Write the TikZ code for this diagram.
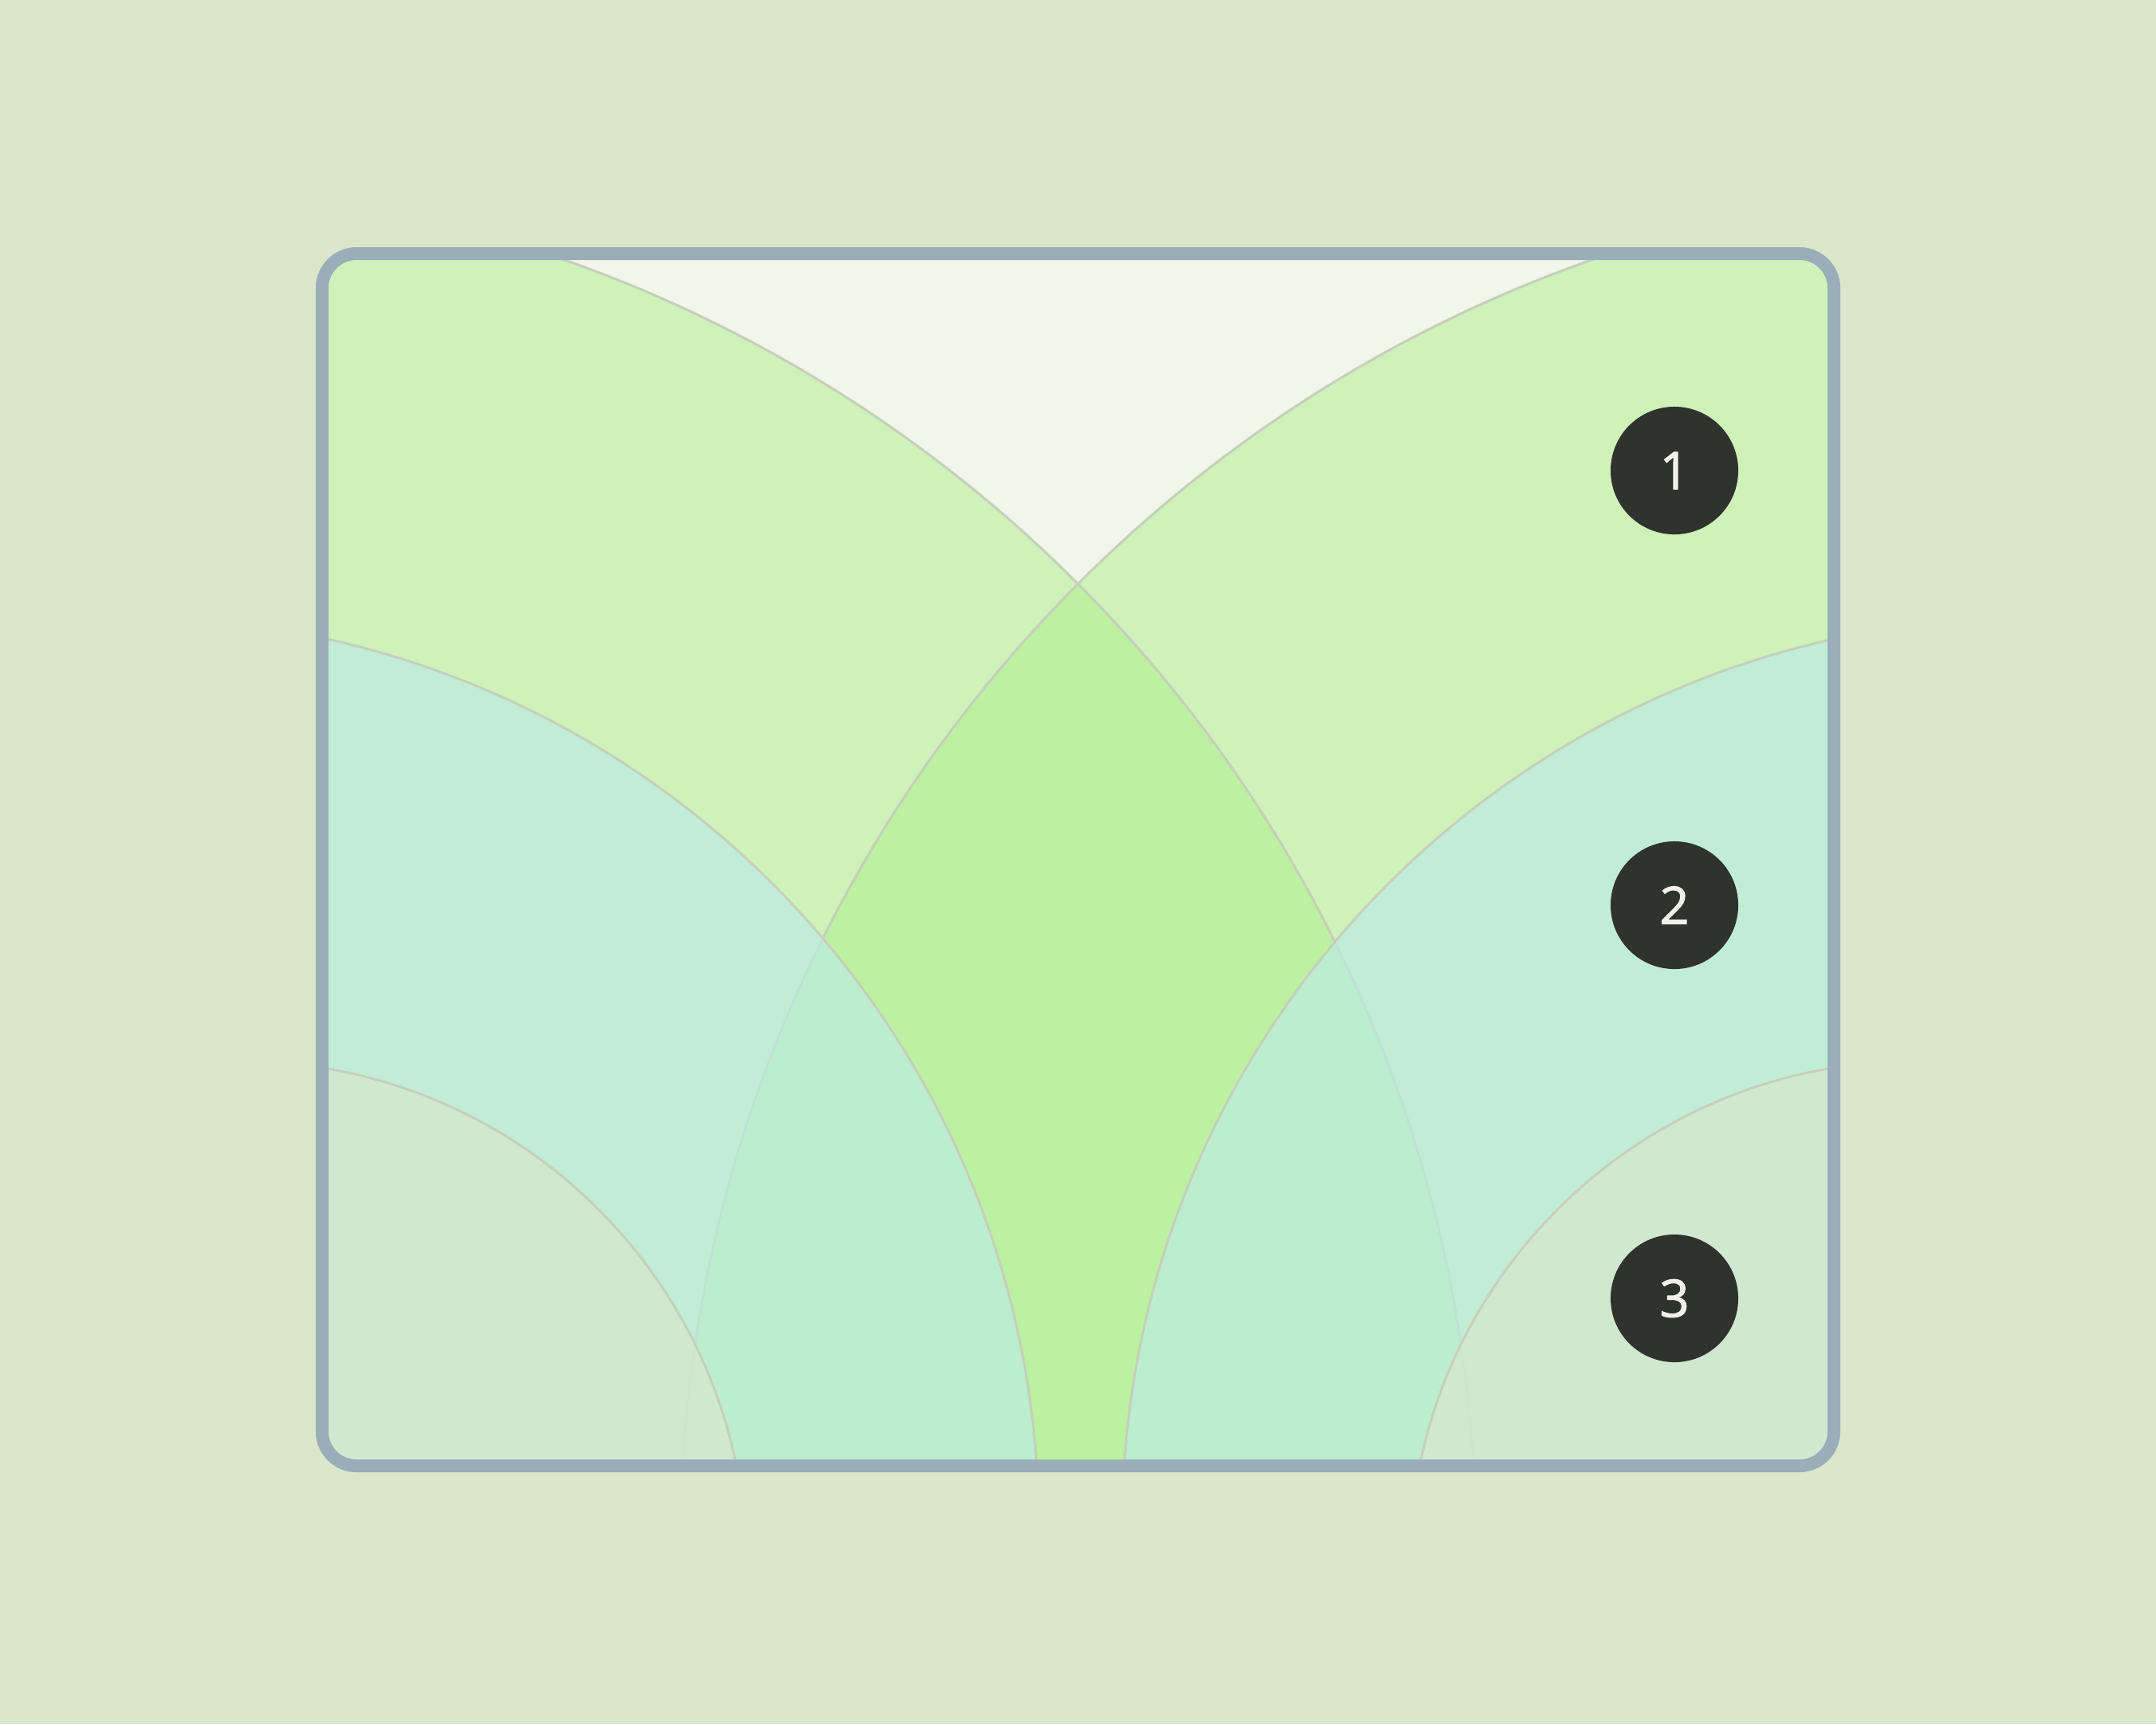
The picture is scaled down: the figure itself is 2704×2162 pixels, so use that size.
\documentclass[tikz,border=0pt]{standalone}
\usepackage{fontspec}
\setmainfont{Open Sans}
\newfontfamily\badgefont[FakeBold=1.6]{Open Sans}
\definecolor{bgc}{HTML}{DAE7CB}
\definecolor{basec}{HTML}{F1F5EA}
\definecolor{bigc}{HTML}{ADF18C}
\definecolor{medc}{HTML}{BCECE4}
\definecolor{smallc}{HTML}{D7E7CE}
\definecolor{arcc}{HTML}{C6CFBA}
\definecolor{framec}{HTML}{9AAEB9}
\definecolor{badgec}{HTML}{2F322D}
\definecolor{badget}{HTML}{F2F0EA}
\tikzset{
  bigfill/.style={fill=bigc, fill opacity=0.5},
  medfill/.style={fill=medc, fill opacity=0.67},
  smallfill/.style={fill=smallc, fill opacity=0.75},
  arcline/.style={draw=arcc, line width=0.03cm},
  framestroke/.style={draw=framec, line width=0.16cm, rounded corners=0.43cm},
  badge/.style={circle, fill=badgec, minimum size=1.6cm, inner sep=0pt,
    text=badget, font=\badgefont\fontsize{18.5}{22}\selectfont}
}
\begin{document}
\begin{tikzpicture}[x=0.01cm,y=-0.01cm]
\fill[bgc] (0,0) rectangle (2704,2162);
\useasboundingbox (0,0) rectangle (2704,2162);
\begin{scope}
  \clip[rounded corners=0.43cm] (404,318) rectangle (2300,1838);
  \fill[basec] (404,318) rectangle (2300,1838);
  % big circles
  \path[bigfill] (142,1939) circle[radius=17.08cm];
  \path[bigfill] (2562,1939) circle[radius=17.08cm];
  \path[arcline] (142,1939) circle[radius=17.08cm];
  \path[arcline] (2562,1939) circle[radius=17.08cm];
  % medium circles
  \path[medfill] (163,1914) circle[radius=11.39cm];
  \path[medfill] (2547,1914) circle[radius=11.39cm];
  \path[arcline] (163,1914) circle[radius=11.39cm];
  \path[arcline] (2547,1914) circle[radius=11.39cm];
  % small circles
  \path[smallfill] (302,1965) circle[radius=6.34cm];
  \path[smallfill] (2402,1965) circle[radius=6.34cm];
  \path[arcline] (302,1965) circle[radius=6.34cm];
  \path[arcline] (2402,1965) circle[radius=6.34cm];
\end{scope}
\draw[framestroke] (404,318) rectangle (2300,1838);
\node[badge] (b1) at (2100,590) {1};
\node[badge] (b2) at (2100,1135) {2};
\node[badge] (b3) at (2100,1628) {3};
\end{tikzpicture}
\end{document}
